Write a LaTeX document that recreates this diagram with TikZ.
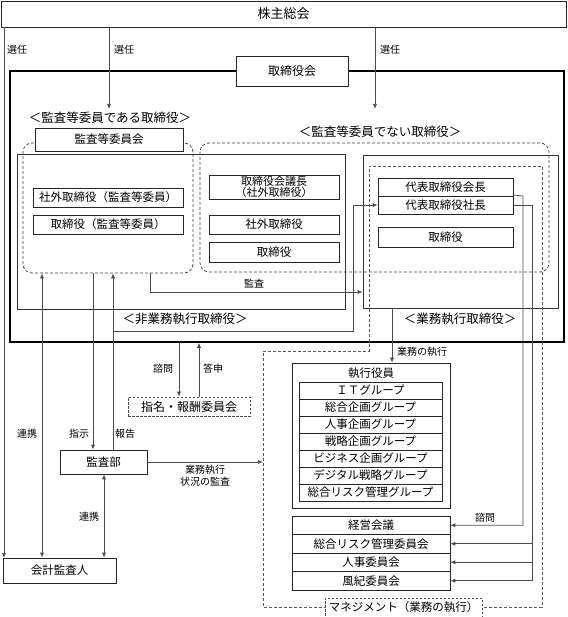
\documentclass[tikz,border=0pt]{standalone}
\usepackage{fontspec}
\setmainfont{Noto Sans CJK JP}
\usetikzlibrary{arrows.meta}
\begin{document}
\begin{tikzpicture}[x=1pt,y=-1pt,
  box/.style={draw=black!85, line width=0.6pt, fill=white, inner sep=0pt, align=center, font=\fontsize{11.5}{12.5}\selectfont},
  dbox/.style={draw=black!75, dashed, dash pattern=on 3pt off 2pt, line width=0.7pt, rounded corners=9pt, inner sep=0pt},
  dlab/.style={draw=black!70, dashed, dash pattern=on 2.5pt off 1.5pt, line width=0.6pt, fill=white, inner sep=0pt, align=center},
  frm/.style={draw=black!80, line width=0.7pt, inner sep=0pt},
  lab/.style={inner sep=0.5pt, align=center, font=\fontsize{10}{12}\selectfont},
  blab/.style={inner sep=0.5pt, font=\fontsize{12.5}{14}\selectfont},
  conn/.style={draw=black!70, line width=0.7pt},
  arr/.style={conn, -{Latex[length=5pt,width=4pt]}},
  darr/.style={conn, {Latex[length=5pt,width=4pt]}-{Latex[length=5pt,width=4pt]}}]
\useasboundingbox (0,0) rectangle (567,617);

% top
\node[box, minimum width=565pt, minimum height=26pt, font=\fontsize{13}{14}\selectfont] (kabu) at (283.5,14) {株主総会};
\node[draw=black, line width=1.5pt, minimum width=554pt, minimum height=271pt, inner sep=0pt] (frame) at (287,206.5) {};
\node[box, minimum width=112pt, minimum height=30pt, font=\fontsize{12}{13}\selectfont] (torikai) at (292,71) {取締役会};

% selection arrows
\coordinate (selL) at (4,558);
\coordinate (sel1) at (109,109);
\coordinate (sel2) at (375,109);
\draw[arr] (kabu.south -| sel1) -- (sel1);
\draw[arr] (kabu.south -| sel2) -- (sel2);
\node[lab] (sen0) at (17,50) {選任};
\node[lab] (sen1) at (124,50) {選任};
\node[lab] (sen2) at (390,50) {選任};

\node[blab] (lab1) at (110,118) {＜監査等委員である取締役＞};
\node[blab] (lab2) at (380,132) {＜監査等委員でない取締役＞};

% solid groups
\node[frm, minimum width=328pt, minimum height=155pt] (hg) at (181,231.5) {};
\node[frm, minimum width=195pt, minimum height=153pt] (gg) at (460.5,231.5) {};
\node[blab] (hglab) at (185,319) {＜非業務執行取締役＞};
\node[blab] (gglab) at (460,319) {＜業務執行取締役＞};

% dashed groups
\node[dbox, minimum width=170pt, minimum height=130pt] (ga) at (108,208) {};
\node[dbox, minimum width=349pt, minimum height=129pt] (gb) at (374.5,207.5) {};

% management region
\coordinate (m1) at (263,351);
\coordinate (m2) at (369,351);
\coordinate (m3) at (369,166);
\coordinate (m4) at (542,166);
\coordinate (m5) at (542,607);
\coordinate (m6) at (263,607);
\draw[draw=black!65, dashed, dash pattern=on 3pt off 2pt, line width=0.7pt] (m1) -- (m2) -- (m3) -- (m4) -- (m5) -- (m6) -- cycle;

% boxes
\node[box, minimum width=148pt, minimum height=23pt] (kiinkai) at (109,139.5) {監査等委員会};
\node[box, minimum width=150pt, minimum height=19pt] (gai1) at (108,197.5) {社外取締役（監査等委員）};
\node[box, minimum width=150pt, minimum height=19pt] (tori1) at (108,224.5) {取締役（監査等委員）};
\node[box, minimum width=130pt, minimum height=24pt, font=\fontsize{11}{11.5}\selectfont] (gichou) at (274,187) {取締役会議長\\（社外取締役）};
\node[box, minimum width=130pt, minimum height=19pt] (gai2) at (274,224.5) {社外取締役};
\node[box, minimum width=130pt, minimum height=20pt] (tori2) at (274,252) {取締役};
\node[box, minimum width=135pt, minimum height=18pt] (kaichou) at (445.5,187) {代表取締役会長};
\node[box, minimum width=135pt, minimum height=18pt] (shachou) at (445.5,205) {代表取締役社長};
\node[box, minimum width=135pt, minimum height=20pt] (tori3) at (445.5,237) {取締役};

% executive officers
\node[box, minimum width=158pt, minimum height=145pt] (shikkou) at (371,435.5) {};
\node[lab, font=\fontsize{11.5}{12}\selectfont] (shtitle) at (371,373) {執行役員};
\node[box, minimum width=143pt, minimum height=17pt] (g1) at (370.5,390.5) {ＩＴグループ};
\node[box, minimum width=143pt, minimum height=17pt] (g2) at (370.5,407.5) {総合企画グループ};
\node[box, minimum width=143pt, minimum height=17pt] (g3) at (370.5,424.5) {人事企画グループ};
\node[box, minimum width=143pt, minimum height=17pt] (g4) at (370.5,441.5) {戦略企画グループ};
\node[box, minimum width=143pt, minimum height=17pt] (g5) at (370.5,458.5) {ビジネス企画グループ};
\node[box, minimum width=143pt, minimum height=17pt] (g6) at (370.5,475.5) {デジタル戦略グループ};
\node[box, minimum width=143pt, minimum height=17pt] (g7) at (370.5,492.5) {総合リスク管理グループ};

% committees
\node[box, minimum width=158pt, minimum height=18.5pt] (c1) at (371,525.25) {経営会議};
\node[box, minimum width=158pt, minimum height=18.5pt] (c2) at (371,543.75) {総合リスク管理委員会};
\node[box, minimum width=158pt, minimum height=18.5pt] (c3) at (371,562.25) {人事委員会};
\node[box, minimum width=158pt, minimum height=18.5pt] (c4) at (371,580.75) {風紀委員会};

\node[dlab, minimum width=157pt, minimum height=19pt, font=\fontsize{11.5}{12}\selectfont] (mlab) at (403.5,607.5) {マネジメント（業務の執行）};

% lower left
\node[box, minimum width=87pt, minimum height=24pt] (kansabu) at (103.5,462) {監査部};
\node[box, minimum width=113pt, minimum height=25pt] (kaikei) at (59.5,570.5) {会計監査人};
\node[dlab, minimum width=122pt, minimum height=19pt, font=\fontsize{12}{13}\selectfont] (shimei) at (189,406.5) {指名・報酬委員会};

% connectors
\draw[arr] (kabu.south -| selL) -- (selL);
\draw[darr] ([xshift=-66pt]ga.south) -- ([xshift=-17.5pt]kaikei.north);
\draw[arr] ([xshift=-15pt]ga.south) -- ([xshift=-10.5pt]kansabu.north);
\draw[arr] ([xshift=9.5pt]kansabu.north) -- ([xshift=5pt]ga.south);
\coordinate (rp1) at (113,331);
\coordinate (rp2) at (353,331);
\draw[arr] (rp1) -- (rp2) -- (rp2 |- shachou.west) -- (shachou.west);
\draw[darr] ([xshift=0.5pt]kansabu.south) -- ([xshift=44.5pt]kaikei.north);
\coordinate (kt) at (150,292);
\draw[arr] (ga.south -| kt) -- (kt) -- (gg.west |- kt);
\node[lab] (kansalab) at (254,284) {監査};
\draw[arr] (kansabu.east) -- (kansabu.east -| m1);
\node[lab] (jlab) at (205,476) {業務執行\\状況の監査};
\draw[arr] ([xshift=-10pt]shimei.north |- frame.south) -- ([xshift=-10pt]shimei.north);
\draw[arr] ([xshift=10pt]shimei.north) -- ([xshift=10pt]shimei.north |- frame.south);
\node[lab] (shimon1) at (163,369) {諮問};
\node[lab] (toushin) at (213,369) {答申};
\node[lab] (renkei1) at (27,434) {連携};
\node[lab] (shiji) at (79,434) {指示};
\node[lab] (houkoku) at (125,434) {報告};
\node[lab] (renkei2) at (89,517) {連携};

\draw[arr] ([xshift=-68.5pt]gg.south) -- ([xshift=21pt]shikkou.north);
\node[lab] (gyoumu) at (422,352) {業務の執行};

\coordinate (k1) at (523,196);
\coordinate (k2) at (532,205);
\draw[arr] ([yshift=-8pt]kaichou.east) -- (k1) -- (k1 |- c1.east) -- (c1.east);
\draw[conn] (shachou.east) -- (k2) -- (k2 |- c4.east);
\draw[arr] (k2 |- c2.east) -- (c2.east);
\draw[arr] (k2 |- c3.east) -- (c3.east);
\draw[arr] (k2 |- c4.east) -- (c4.east);
\node[lab] (shimon2) at (485,518) {諮問};
\end{tikzpicture}
\end{document}
